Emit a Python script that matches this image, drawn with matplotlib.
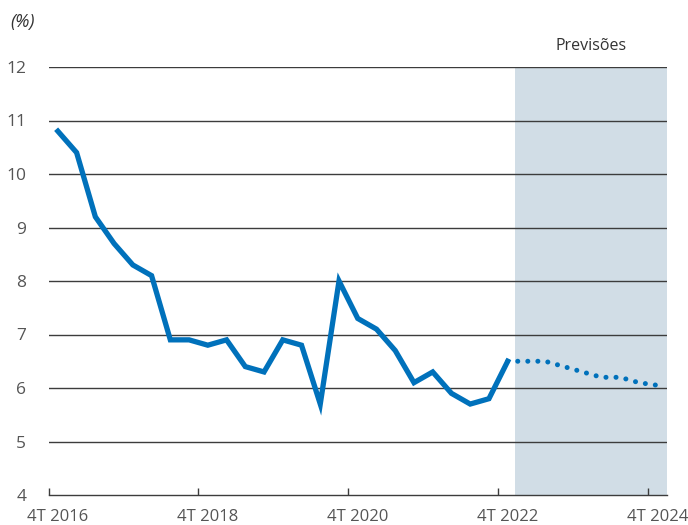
import numpy as np
import matplotlib.pyplot as plt

# quarterly data, 4T 2016 .. 4T 2022
hist = [10.8, 10.4, 9.2, 8.7, 8.3, 8.1, 6.9, 6.9, 6.8, 6.9, 6.4, 6.3, 6.9,
        6.8, 5.7, 8.0, 7.3, 7.1, 6.7, 6.1, 6.3, 5.9, 5.7, 5.8, 6.5]
# forecast, 4T 2022 .. 4T 2024
prev = [6.5, 6.5, 6.5, 6.4, 6.3, 6.2, 6.2, 6.1, 6.05]
tick_labels = ['4T 2016', '4T 2018', '4T 2020', '4T 2022', '4T 2024']

plt.rcParams['font.family'] = ['Open Sans', 'DejaVu Sans']

blue = '#0071bb'
fig = plt.figure(figsize=(6.88, 5.25), dpi=100)
ax = fig.add_axes([48.5 / 688, 30 / 525, (667 - 48.5) / 688, 428 / 525])

x_hist = np.arange(len(hist))
x_prev = np.arange(len(hist) - 1, len(hist) - 1 + len(prev))

ax.axvspan(24.4, 32.5, color='#d1dde6', zorder=0, lw=0)
for v in range(5, 13):
    ax.axhline(v, color='#3c3c3c', lw=1.0, zorder=1)

ax.plot(x_hist, hist, color=blue, lw=3.8, solid_joinstyle='miter', zorder=3)
ax.plot(x_prev, prev, color=blue, lw=3.6, ls=(0, (0.01, 2.0)),
        dash_capstyle='round', zorder=3)

ax.set_xlim(-0.5, 32.5)
ax.set_ylim(4, 12)
ax.set_yticks(range(4, 13))
ax.set_yticklabels([str(v) for v in range(4, 13)])

# ticks between categories, labels centred on the quarter
ax.set_xticks([-0.5, 7.5, 15.5, 23.5, 31.5])
ax.set_xticklabels([])
ax.set_xticks([0, 8, 16, 24, 32], minor=True)
ax.set_xticklabels(tick_labels, minor=True)
ax.tick_params(axis='x', which='major', direction='in', length=5, width=1, color='#3c3c3c')
ax.tick_params(axis='x', which='minor', length=0, pad=10, labelsize=12, labelcolor='#555555')
ax.tick_params(axis='y', length=0, pad=16, labelsize=12.5, labelcolor='#555555')

for s in ['top', 'right', 'left']:
    ax.spines[s].set_visible(False)
ax.spines['bottom'].set_color('#3c3c3c')
ax.spines['bottom'].set_linewidth(1.0)

ax.text(28.45, 12.25, 'Previsões', ha='center', va='bottom', fontsize=11.5, color='#333333')
fig.text(10 / 688, 1 - 22 / 525, '(%)', ha='left', va='center', fontsize=13,
         style='italic', color='#333333')

fig.savefig('out.png', dpi=100)
